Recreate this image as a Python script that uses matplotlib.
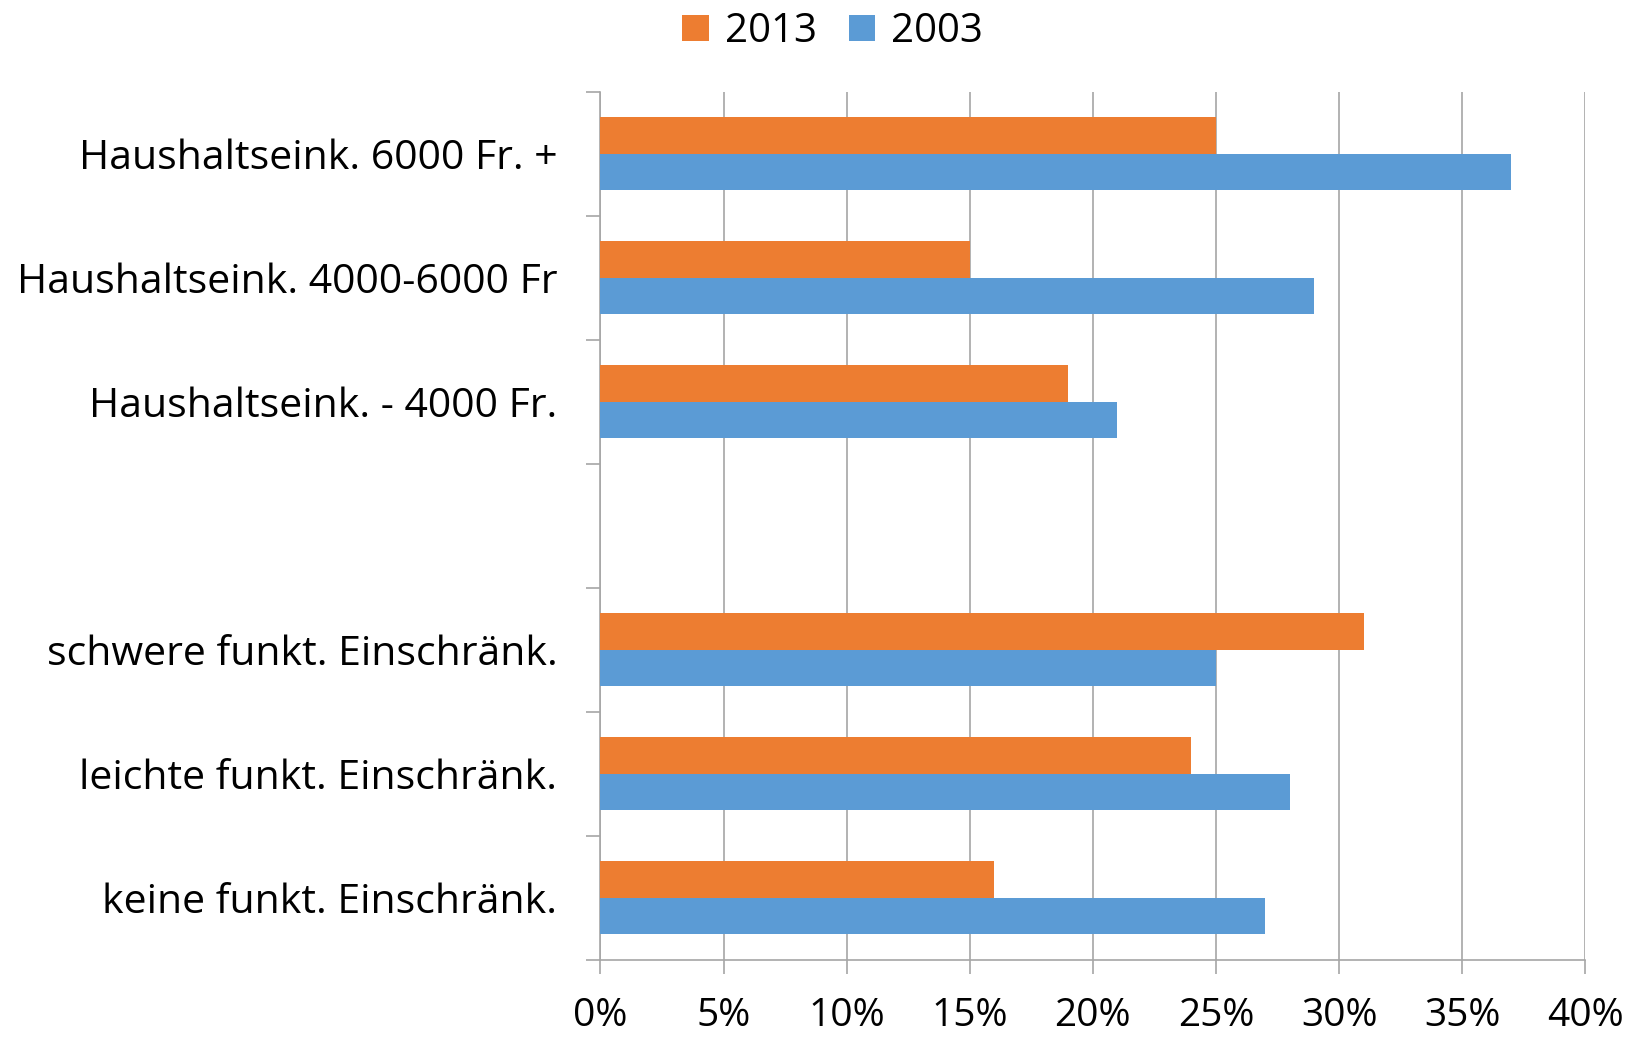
import numpy as np
import matplotlib
matplotlib.use('Agg')
import matplotlib.pyplot as plt
from matplotlib.ticker import FuncFormatter, FixedLocator

categories = ['Haushaltseink. 6000 Fr. +', 'Haushaltseink. 4000-6000 Fr',
              'Haushaltseink. - 4000 Fr.', '',
              'schwere funkt. Einschränk.', 'leichte funkt. Einschränk.',
              'keine funkt. Einschränk.']
vals_2013 = [25, 15, 19, np.nan, 31, 24, 16]
vals_2003 = [37, 29, 21, np.nan, 25, 28, 27]
x_ticks = [0, 5, 10, 15, 20, 25, 30, 35, 40]

plt.rcParams['font.family'] = ['Open Sans', 'DejaVu Sans']

fig = plt.figure(figsize=(16.36, 10.41), dpi=100)
ax = fig.add_axes([0.367, 0.078, 0.602, 0.834])

orange = '#ED7D31'
blue = '#5B9BD5'
grid_c = '#A6A6A6'

y = np.arange(len(categories))
h = 0.295
ax.barh(y - h / 2, vals_2013, height=h, color=orange, label='2013', zorder=3)
ax.barh(y + h / 2, vals_2003, height=h, color=blue, label='2003', zorder=3)

ax.set_ylim(len(categories) - 0.5, -0.5)
ax.set_xlim(0, 40)

ax.set_yticks(y)
ax.set_yticklabels(categories, fontsize=29.5)
ax.yaxis.set_minor_locator(FixedLocator(np.arange(-0.5, len(categories), 1)))
ax.tick_params(axis='y', which='major', length=0, pad=31)
ax.tick_params(axis='y', which='minor', length=10, color=grid_c, width=1.2)

ax.set_xticks(x_ticks)
ax.xaxis.set_major_formatter(FuncFormatter(lambda v, p: f'{v:.0f}%'))
ax.tick_params(axis='x', which='major', length=10, color=grid_c, width=1.2,
               labelsize=28, pad=17)

ax.grid(axis='x', color=grid_c, linewidth=1.2, zorder=0)
for s in ['top', 'right']:
    ax.spines[s].set_visible(False)
for s in ['left', 'bottom']:
    ax.spines[s].set_color(grid_c)
    ax.spines[s].set_linewidth(1.2)

fig.legend(loc='upper center', bbox_to_anchor=(0.509, 1.012), ncol=2,
           frameon=False, fontsize=29, handlelength=0.65, handleheight=0.65,
           handletextpad=0.4, columnspacing=0.8, borderaxespad=0.2)

fig.savefig('out.png', dpi=100)
